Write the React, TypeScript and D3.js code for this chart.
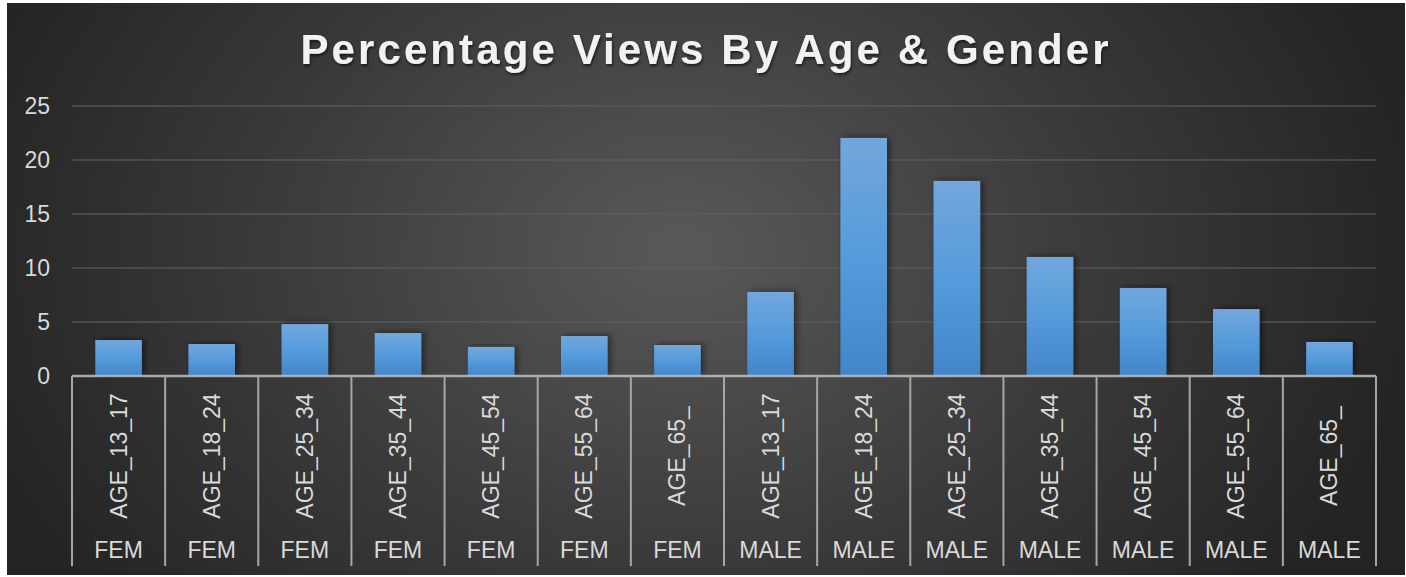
import React from 'react';
import * as d3 from 'd3';

// values
const genders = ['FEM', 'FEM', 'FEM', 'FEM', 'FEM', 'FEM', 'FEM', 'MALE', 'MALE', 'MALE', 'MALE', 'MALE', 'MALE', 'MALE'];
const ageGroups = ['AGE_13_17', 'AGE_18_24', 'AGE_25_34', 'AGE_35_44', 'AGE_45_54', 'AGE_55_64', 'AGE_65_'];
const femaleViews = [3.33, 2.96, 4.81, 3.98, 2.69, 3.7, 2.87];
const maleViews = [7.78, 22.04, 18.06, 11.02, 8.15, 6.2, 3.15];
const yTicks = [0, 5, 10, 15, 20, 25];

const W = 1406;
const H = 577;
const margin = { top: 106, right: 30, bottom: 201, left: 72 };
const font = '"Liberation Sans", Arial, sans-serif';

export default function App() {
    const rows = genders.map((g, i) => ({
        key: `${g}-${ageGroups[i % 7]}`,
        gender: g,
        age: ageGroups[i % 7],
        value: g === 'FEM' ? femaleViews[i % 7] : maleViews[i % 7],
    }));

    const x = d3.scaleBand()
        .domain(rows.map(d => d.key))
        .range([margin.left, W - margin.right])
        .paddingInner(0.5)
        .paddingOuter(0.25);

    // separators sit on the category boundaries, not the padded bands
    const step = x.step();
    const edges = d3.range(rows.length + 1).map(i => margin.left + i * step);

    const y = d3.scaleLinear()
        .domain([0, 25])
        .range([H - margin.bottom, margin.top]);

    const y0 = y(0);

    return (
        <svg width={W} height={H} style={{ position: 'absolute', left: 0, top: 0 }}>
            <defs>
                <radialGradient id="bg" gradientUnits="userSpaceOnUse" cx={680} cy={250} r={760}
                    gradientTransform="translate(680 250) scale(1 0.75) translate(-680 -250)">
                    <stop offset="0" stopColor="#595959" />
                    <stop offset="0.55" stopColor="#3a3a3a" />
                    <stop offset="1" stopColor="#232323" />
                </radialGradient>
                <linearGradient id="bar" x1="0" y1="0" x2="0" y2="1">
                    <stop offset="0" stopColor="#72a7dc" />
                    <stop offset="0.5" stopColor="#559bdc" />
                    <stop offset="1" stopColor="#4186c9" />
                </linearGradient>
                <filter id="barShadow" x="-30%" y="-10%" width="160%" height="120%">
                    <feDropShadow dx="3" dy="-1" stdDeviation="3" floodColor="#000" floodOpacity="0.45" />
                </filter>
                <filter id="titleShadow" x="-5%" y="-30%" width="110%" height="160%">
                    <feDropShadow dx="1" dy="2" stdDeviation="1.5" floodColor="#000" floodOpacity="0.6" />
                </filter>
            </defs>

            <rect x={0} y={0} width={W} height={H} fill="#fff" />
            <rect x={7} y={3} width={W - 8} height={H - 5} fill="url(#bg)" />

            <text x={706} y={64} textAnchor="middle" fill="#f2f2f2" fontFamily={font}
                fontWeight="bold" fontSize={42} letterSpacing={3.1} filter="url(#titleShadow)">
                Percentage Views By Age &amp; Gender
            </text>

            {/* gridlines */}
            {yTicks.filter(t => t > 0).map(t => (
                <line key={t} x1={margin.left} x2={W - margin.right} y1={y(t)} y2={y(t)}
                    stroke="#5f5f5f" strokeOpacity={0.75} strokeWidth={1.5} />
            ))}

            {yTicks.map(t => (
                <text key={t} x={50} y={y(t)} dy="0.36em" textAnchor="end" fill="#d9d9d9"
                    fontFamily={font} fontSize={23}>{t}</text>
            ))}

            {rows.map(d => (
                <rect key={d.key} x={x(d.key)} y={y(d.value)} width={x.bandwidth()}
                    height={y0 - y(d.value)} fill="url(#bar)" filter="url(#barShadow)" />
            ))}

            {/* category axis */}
            <line x1={margin.left} x2={W - margin.right} y1={y0} y2={y0} stroke="#bfbfbf" strokeOpacity={0.85} strokeWidth={2.5} />
            {edges.map((ex, i) => (
                <line key={i} x1={ex} x2={ex} y1={y0} y2={566} stroke="#a6a6a6" strokeWidth={2} />
            ))}

            {rows.map(d => {
                const cx = (x(d.key) ?? 0) + x.bandwidth() / 2;
                return (
                    <g key={d.key}>
                        <text transform={`translate(${cx + 8},456) rotate(-90)`} textAnchor="middle"
                            fill="#d9d9d9" fontFamily={font} fontSize={23}>{d.age}</text>
                        <text x={cx} y={558} textAnchor="middle" fill="#d9d9d9" fontFamily={font}
                            fontSize={23}>{d.gender}</text>
                    </g>
                );
            })}
        </svg>
    );
}
